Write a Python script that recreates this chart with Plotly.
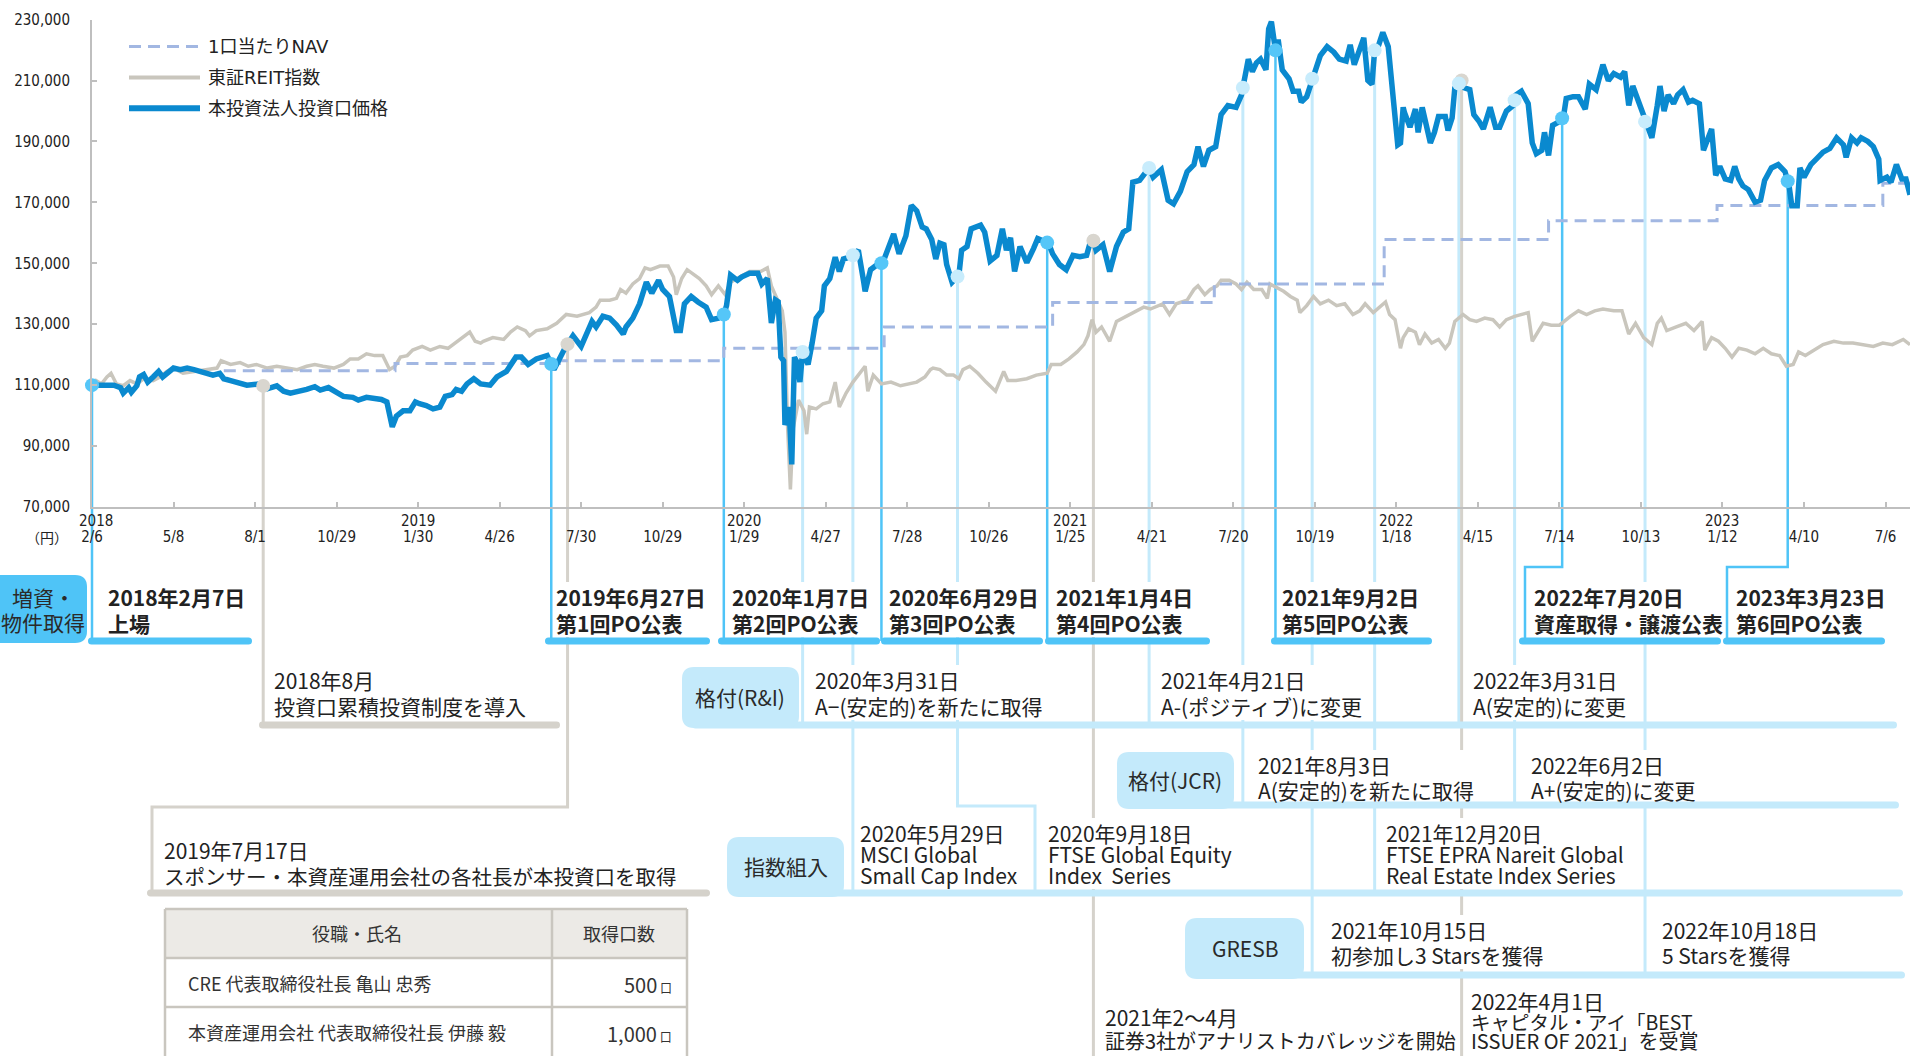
import numpy as np
import plotly.graph_objects as go

W, H = 1910, 1056

# ---------------------------------------------------------------------------
# Series: x = trading days counted from the listing (2018/2/7), y = yen
# ---------------------------------------------------------------------------
PRICE = [
    (0, 110000), (16, 110000), (21, 109200), (23, 107400), (27, 109200), (29, 107700),
    (33, 109800), (35, 112700), (38, 113500), (41, 111000), (45, 112700), (49, 114500),
    (52, 112700), (56, 113900), (60, 115600), (65, 115100), (70, 115600), (75, 115100),
    (79, 114500), (84, 113900), (89, 113300), (94, 113900), (97, 112100), (102, 111500),
    (106, 111000), (114, 110000), (124, 110400), (129, 108800), (136, 109800), (141, 108000),
    (146, 107400), (153, 108000), (158, 108600), (164, 109500), (168, 108400), (174, 109200),
    (180, 107400), (185, 106300), (192, 106000), (196, 105100), (202, 106000), (213, 105300),
    (217, 104500), (219, 99800), (221, 96300), (224, 99800), (229, 101600), (234, 101600),
    (238, 104500), (241, 103900), (246, 103300), (251, 102200), (256, 102800), (260, 106300),
    (265, 106900), (268, 108600), (272, 108000), (276, 110400), (281, 112100), (286, 110400),
    (293, 110000), (298, 112700), (305, 114500), (312, 119200), (316, 119200), (321, 116800),
    (327, 118600), (335, 119700), (340, 115100), (344, 118600), (348, 122100), (354, 126200),
    (360, 122700), (368, 130900), (371, 129100), (376, 132600), (381, 132000), (386, 129700),
    (391, 126800), (393, 129100), (398, 132000), (403, 136700), (408, 143800), (412, 140200),
    (417, 144400), (420, 141400), (425, 139100), (430, 127900), (433, 127900), (436, 136700),
    (441, 139100), (446, 137300), (452, 135600), (456, 131500), (461, 132000), (465, 133200),
    (467, 136100), (470, 146100), (475, 144400), (478, 145500), (484, 146700), (490, 146700),
    (493, 143200), (497, 145000), (500, 130400), (503, 138000), (505, 137400), (507, 119200),
    (509, 118000), (510, 96900), (513, 102800), (515, 84000), (517, 119200), (519, 117400),
    (521, 111000), (523, 120900), (527, 116800), (530, 123800), (533, 132000), (537, 134400),
    (539, 142600), (543, 145000), (547, 152000), (550, 147300), (553, 151400), (559, 152200),
    (564, 154300), (568, 143800), (569, 140800), (573, 147900), (578, 149600), (582, 150200),
    (586, 155500), (590, 159600), (594, 153100), (599, 159000), (603, 169000), (607, 167200),
    (611, 161900), (614, 161300), (618, 157800), (621, 151400), (624, 156600), (627, 156100),
    (629, 149600), (633, 143800), (638, 146100), (640, 154300), (644, 155500), (647, 161300),
    (654, 162500), (657, 160200), (661, 150800), (666, 152600), (670, 161300), (673, 154300),
    (676, 158400), (679, 147300), (683, 155500), (688, 150200), (693, 154900), (696, 158100),
    (704, 156600), (707, 153100), (712, 149600), (717, 147900), (722, 152600), (727, 152200),
    (732, 152600), (736, 159000), (739, 154300), (744, 156100), (749, 147300), (754, 155500),
    (759, 160200), (763, 161300), (766, 176600), (771, 177200), (778, 181300), (781, 178300),
    (787, 180700), (792, 170700), (796, 169500), (801, 173600), (806, 180100), (811, 182400),
    (814, 188300), (818, 181800), (822, 187100), (827, 188300), (831, 198800), (836, 201800),
    (842, 201200), (846, 205300), (851, 217000), (854, 212900), (857, 215800), (860, 217000),
    (864, 213500), (866, 227000), (868, 229300), (871, 219900), (873, 223400), (876, 213500),
    (881, 210600), (884, 206500), (888, 206500), (890, 202900), (894, 204700), (898, 210600),
    (904, 218200), (909, 221100), (914, 219300), (918, 217000), (923, 216400), (926, 221700),
    (929, 215200), (936, 224000), (939, 210000), (942, 208800), (944, 219900), (947, 221700),
    (950, 225800), (954, 221100), (958, 204700), (961, 188900), (963, 189500), (965, 201200),
    (966, 199400), (970, 194700), (974, 200600), (976, 193000), (979, 201200), (982, 195900),
    (985, 189500), (988, 193000), (991, 198200), (996, 198200), (998, 193600), (1001, 197700),
    (1003, 207600), (1008, 210000), (1010, 207600), (1014, 207000), (1017, 198800), (1021, 196500),
    (1024, 194100), (1029, 201200), (1033, 194700), (1036, 194700), (1041, 200000), (1046, 201800),
    (1048, 205300), (1052, 206500), (1057, 202400), (1060, 189500), (1063, 186000), (1067, 187100),
    (1069, 193000), (1072, 185400), (1075, 195300), (1080, 196500), (1083, 198200), (1085, 204100),
    (1090, 204700), (1094, 204700), (1099, 200600), (1102, 208800), (1107, 207000), (1112, 215200),
    (1116, 210000), (1120, 212300), (1125, 211100), (1128, 212900), (1131, 201800), (1134, 208200),
    (1138, 203500), (1143, 196500), (1148, 191200), (1152, 201800), (1154, 208200), (1157, 200000),
    (1160, 205300), (1164, 202400), (1167, 205300), (1171, 207000), (1175, 202900), (1178, 203500),
    (1183, 202400), (1186, 187100), (1188, 189500), (1192, 194100), (1195, 178900), (1198, 181800),
    (1202, 177700), (1206, 177200), (1209, 181800), (1212, 177700), (1215, 175400), (1219, 174200),
    (1224, 170100), (1228, 170700), (1231, 177200), (1236, 181300), (1241, 182400), (1246, 180100),
    (1249, 175400), (1251, 168900), (1255, 168900), (1257, 181300), (1260, 178300), (1265, 182400),
    (1269, 184200), (1274, 186500), (1279, 187700), (1284, 191200), (1289, 188900), (1291, 184800),
    (1295, 191200), (1299, 189500), (1302, 191200), (1307, 190000), (1311, 188300), (1315, 184200),
    (1316, 177200), (1321, 178300), (1324, 176600), (1328, 182400), (1332, 177700), (1335, 177700),
    (1338, 172500),
]

REIT = [
    (0, 109800), (3, 111500), (7, 110400), (11, 112700), (14, 113900), (18, 110400),
    (23, 109800), (28, 111500), (33, 110400), (38, 112100), (45, 111500), (50, 112700),
    (55, 114500), (60, 115600), (67, 113900), (75, 114500), (84, 115100), (92, 115600),
    (95, 118000), (102, 116800), (109, 117400), (115, 116200), (121, 116800), (129, 115600),
    (136, 116200), (143, 115600), (151, 115100), (158, 116200), (164, 116800), (170, 116200),
    (178, 115600), (185, 116800), (190, 118600), (196, 118600), (202, 120300), (208, 119700),
    (214, 119700), (219, 115100), (223, 116200), (227, 119200), (232, 119700), (236, 121500),
    (243, 122700), (249, 121500), (256, 122700), (262, 122100), (267, 123800), (273, 125600),
    (278, 127400), (282, 124400), (286, 123800), (288, 124400), (295, 125600), (303, 125000),
    (308, 127400), (313, 129100), (319, 127900), (322, 126200), (327, 127900), (335, 128500),
    (342, 130300), (349, 133200), (357, 132600), (366, 133800), (371, 135600), (374, 137900),
    (381, 137900), (386, 138500), (389, 141400), (393, 140200), (398, 143200), (403, 145000),
    (407, 148500), (411, 147900), (418, 149100), (424, 149100), (428, 145500), (430, 139700),
    (434, 145000), (438, 147900), (443, 146100), (447, 145000), (452, 142600), (456, 139700),
    (461, 142600), (466, 139700), (470, 143800), (477, 145500), (484, 147300), (492, 147300),
    (497, 148500), (500, 142600), (504, 138500), (508, 134400), (510, 127400), (512, 95700),
    (514, 75800), (516, 95700), (520, 105100), (524, 101600), (526, 93900), (528, 102800),
    (533, 102200), (538, 103900), (543, 104500), (547, 111000), (550, 102800), (555, 107400),
    (560, 111000), (565, 113900), (569, 116200), (571, 108000), (575, 113300), (581, 110400),
    (588, 111000), (595, 109800), (601, 110400), (607, 111000), (613, 112700), (617, 115100),
    (619, 115600), (624, 115100), (629, 113300), (634, 113300), (638, 112100), (641, 115100),
    (646, 116200), (652, 113900), (658, 111000), (665, 108000), (671, 114500), (674, 111500),
    (680, 111500), (688, 112100), (695, 113300), (703, 113900), (706, 116800), (713, 116800),
    (719, 118600), (725, 120900), (730, 123300), (733, 126200), (736, 131500), (739, 127400),
    (743, 129100), (749, 124400), (754, 130900), (759, 132000), (764, 133200), (769, 134400),
    (774, 135600), (779, 135000), (784, 136100), (788, 136700), (793, 133200), (798, 136700),
    (806, 137900), (811, 141400), (814, 142600), (819, 139700), (823, 141400), (828, 142600),
    (831, 144400), (837, 144400), (842, 143200), (846, 141400), (850, 143800), (855, 141400),
    (861, 141400), (865, 138500), (867, 143200), (872, 142000), (877, 140800), (882, 139100),
    (887, 137900), (889, 133800), (894, 136100), (899, 139100), (904, 136700), (910, 137900),
    (916, 136100), (922, 136700), (928, 133200), (933, 134400), (937, 136700), (943, 133800),
    (948, 135600), (952, 137300), (955, 133200), (959, 131500), (963, 122100), (965, 125600),
    (969, 128500), (974, 127400), (977, 123300), (981, 126800), (986, 123800), (991, 125000),
    (996, 122100), (999, 123800), (1003, 130900), (1009, 133200), (1014, 131500), (1019, 130900),
    (1025, 132000), (1031, 131500), (1036, 129100), (1041, 131500), (1047, 132600), (1052, 133200),
    (1057, 133800), (1060, 124400), (1063, 126800), (1068, 130300), (1074, 129700), (1080, 129700),
    (1088, 132600), (1094, 134400), (1100, 133200), (1106, 134400), (1112, 135000), (1120, 134400),
    (1126, 134400), (1131, 126800), (1136, 130300), (1142, 125600), (1148, 123300), (1152, 130300),
    (1155, 132000), (1159, 127900), (1166, 129100), (1173, 130300), (1179, 127900), (1185, 130900),
    (1187, 121500), (1192, 125600), (1197, 124400), (1202, 122100), (1207, 119200), (1212, 122100),
    (1218, 121500), (1224, 120300), (1230, 122100), (1236, 120300), (1242, 119700), (1247, 116200),
    (1252, 116800), (1256, 120900), (1261, 119700), (1267, 121500), (1274, 123300), (1282, 124400),
    (1289, 123800), (1296, 123800), (1304, 123300), (1311, 122700), (1318, 123800), (1325, 123300),
    (1333, 125000), (1338, 123300),
]

# NAV per unit: value from each step date onward
NAV = [
    (97, 114700), (223, 117100), (344, 118000), (465, 122100), (583, 129100), (707, 137100),
    (826, 143200), (951, 157800), (1072, 164000), (1196, 169000), (1318, 176300), (1338, 176300),
]

TICK_DAYS = list(range(0, 1321, 60))
TICK_DATES = ["2/6", "5/8", "8/1", "10/29", "1/30", "4/26", "7/30", "10/29", "1/29", "4/27",
              "7/28", "10/26", "1/25", "4/21", "7/20", "10/19", "1/18", "4/15", "7/14", "10/13",
              "1/12", "4/10", "7/6"]
YEAR_DAYS = [0, 240, 480, 720, 960, 1200]
YEAR_LABELS = ["2018", "2019", "2020", "2021", "2022", "2023"]
Y_TICKS = list(range(70000, 230001, 20000))

# Events on the price line: trading day and category
EVENT_DAYS = [0, 126, 338, 350, 465, 523, 560, 581, 637, 703, 737, 778, 847, 871, 898, 944,
              1006, 1008, 1047, 1082, 1143, 1248]
EVENT_KIND = ["po", "misc", "po", "misc", "po", "info", "info", "po", "info", "po", "misc",
              "info", "info", "po", "info", "info", "info", "misc", "info", "po", "info", "po"]
# connector routing below the chart (pixel rows / columns of the timeline panel)
EVENT_ROUTE = [
    [("v", 641)], [("v", 725)], [("v", 641)], [("v", 807), ("h", 152), ("v", 893)],
    [("v", 641)], [("v", 725)], [("v", 893)], [("v", 641)],
    [("v", 806), ("h", 1035), ("v", 893)], [("v", 641)], [("v", 1060)], [("v", 725)],
    [("v", 805)], [("v", 641)], [("v", 975)], [("v", 893)], [("v", 725)], [("v", 1060)],
    [("v", 805)], [("v", 567), ("h", 1525), ("v", 641)], [("v", 975)],
    [("v", 567), ("h", 1727), ("v", 641)],
]

# ---------------------------------------------------------------------------
# Styling
# ---------------------------------------------------------------------------
BLUE = "#0A89CF"
REIT_C = "#C9C6BD"
NAV_C = "#A2B7E2"
SKY = "#4FC4F7"
PALE = "#C4EAFB"
GREY = "#D5D2CB"
TXT = "#222222"
AXIS_C = "#BFBFBF"
JP = "Noto Sans CJK JP"
LAT = "DejaVu Sans"
AX_FONT = "DejaVu Sans Condensed, DejaVu Sans"

KIND_COLOR = {"po": SKY, "info": PALE, "misc": GREY}
MARK_COLOR = {"po": "#55C6F8", "info": "#C8ECFC", "misc": "#D9D6CF"}
KIND_WIDTH = {"po": 2.5, "info": 3, "misc": 3}

XR = [0, 1338]
YR = [70000, 230000]
X0 = 92 / W
Y_TOP, Y_BOT = 19.6, 507.0
YDOM = [1 - Y_BOT / H, 1 - Y_TOP / H]


def px(x):
    return x / W


def py(y):
    return 1 - y / H


def day_x(d):
    return X0 + (d - XR[0]) / (XR[1] - XR[0]) * (1 - X0)


def val_y(v):
    return YDOM[0] + (v - YR[0]) / (YR[1] - YR[0]) * (YDOM[1] - YDOM[0])


def path_of(pts):
    return "M" + " L".join(f"{x:.6f},{y:.6f}" for x, y in pts)


def rrect(x0, y0, x1, y1, r):
    p = lambda x, y: f"{px(x):.6f},{py(y):.6f}"
    return (f"M{p(x0 + r, y0)} L{p(x1 - r, y0)} Q{p(x1, y0)} {p(x1, y0 + r)} "
            f"L{p(x1, y1 - r)} Q{p(x1, y1)} {p(x1 - r, y1)} L{p(x0 + r, y1)} "
            f"Q{p(x0, y1)} {p(x0, y1 - r)} L{p(x0, y0 + r)} Q{p(x0, y0)} {p(x0 + r, y0)} Z")


def text_w(s, size):
    w = 0.0
    for ch in s:
        o = ord(ch)
        if o >= 0x2E80 or ch == "\u2212":
            w += 1.0
        elif ch in " \u00a0":
            w += 0.25
        elif ch in "()":
            w += 0.33
        elif ch in "il.,I|":
            w += 0.27
        elif ch in "mMW":
            w += 0.85
        else:
            w += 0.56
    return w * size


def note(x, y, text, size, anchor="left", family=JP, weight=400, color=TXT, xref="paper", xshift=0):
    return dict(x=x if xref != "paper" else px(x), y=py(y), xref=xref, yref="paper", text=text,
                showarrow=False, xanchor=anchor, yanchor="middle", align=anchor,
                borderpad=0, xshift=xshift,
                font=dict(family=family, size=size, color=color, weight=weight))


px_x, px_y = zip(*PRICE)
rt_x, rt_y = zip(*REIT)
nv_x, nv_y = zip(*NAV)
ev_vals = np.interp(EVENT_DAYS, px_x, px_y)

fig = go.Figure()
fig.add_trace(go.Scatter(x=rt_x, y=rt_y, mode="lines", name="東証REIT指数",
                         line=dict(color=REIT_C, width=3.5)))
fig.add_trace(go.Scatter(x=nv_x, y=nv_y, mode="lines", name="1口当たりNAV", line_shape="hv",
                         line=dict(color=NAV_C, width=3, dash="12px,7px")))
fig.add_trace(go.Scatter(x=px_x, y=px_y, mode="lines", name="本投資法人投資口価格",
                         line=dict(color=BLUE, width=5.5)))
for kind in ["misc", "info", "po"]:
    idx = [i for i, k in enumerate(EVENT_KIND) if k == kind]
    fig.add_trace(go.Scatter(x=[EVENT_DAYS[i] for i in idx], y=[ev_vals[i] for i in idx],
                             mode="markers", cliponaxis=False, showlegend=False,
                             marker=dict(size=14, color=MARK_COLOR[kind], line=dict(width=0))))

shapes = []
anns = []

# connectors from each event marker down into the timeline panel
for d, v, kind, route in zip(EVENT_DAYS, ev_vals, EVENT_KIND, EVENT_ROUTE):
    cx, cy = day_x(d), val_y(v)
    pts = [(cx, cy)]
    for step, pos in route:
        if step == "v":
            cy = py(pos)
        else:
            cx = px(pos)
        pts.append((cx, cy))
    shapes.append(dict(type="path", path=path_of(pts), xref="paper", yref="paper",
                       line=dict(color=KIND_COLOR[kind], width=KIND_WIDTH[kind]),
                       fillcolor="rgba(0,0,0,0)", layer="below"))

# text blocks of the timeline: (left x, [(y, text, size)], weight)
BLOCKS = []
ROW1 = [(107, "2018年2月7日", "上場"), (555, "2019年6月27日", "第1回PO公表"),
        (731, "2020年1月7日", "第2回PO公表"), (888, "2020年6月29日", "第3回PO公表"),
        (1055, "2021年1月4日", "第4回PO公表"), (1281, "2021年9月2日", "第5回PO公表"),
        (1533, "2022年7月20日", "資産取得・譲渡公表"), (1735, "2023年3月23日", "第6回PO公表")]
for x, a, b in ROW1:
    BLOCKS.append((x, [(597, a, 21), (623, b, 21)], 700))
for x, a, b in [(273, "2018年8月", "投資口累積投資制度を導入"),
                (814, "2020年3月31日", "A\u2212(安定的)を新たに取得"),
                (1160, "2021年4月21日", "A-(ポジティブ)に変更"),
                (1472, "2022年3月31日", "A(安定的)に変更")]:
    BLOCKS.append((x, [(680, a, 21), (706, b, 21)], 400))
for x, a, b in [(1257, "2021年8月3日", "A(安定的)を新たに取得"),
                (1530, "2022年6月2日", "A+(安定的)に変更")]:
    BLOCKS.append((x, [(765, a, 21), (790, b, 21)], 400))
BLOCKS.append((163, [(850, "2019年7月17日", 21),
                     (876, "スポンサー・本資産運用会社の各社長が本投資口を取得", 20.5)], 400))
for x, a, b, c in [(859, "2020年5月29日", "MSCI Global", "Small Cap Index"),
                   (1047, "2020年9月18日", "FTSE Global Equity", "Index\u00a0 Series"),
                   (1385, "2021年12月20日", "FTSE EPRA Nareit Global", "Real Estate Index Series")]:
    BLOCKS.append((x, [(833, a, 21), (854, b, 21), (875, c, 21)], 400))
for x, a, b in [(1330, "2021年10月15日", "初参加し3 Starsを獲得"),
                (1661, "2022年10月18日", "5 Starsを獲得")]:
    BLOCKS.append((x, [(930, a, 21), (955, b, 21)], 400))
BLOCKS.append((1104, [(1017, "2021年2〜4月", 21),
                      (1040, "証券3社がアナリストカバレッジを開始", 20)], 400))
BLOCKS.append((1470, [(1001, "2022年4月1日", 21), (1021, "キャピタル・アイ「BEST", 19.5),
                      (1040, "ISSUER OF 2021」を受賞", 20)], 400))

for x, lines, weight in BLOCKS:
    wmax = max(text_w(t, s) for _, t, s in lines)
    ys = [y for y, _, _ in lines]
    shapes.append(dict(type="rect", xref="paper", yref="paper", x0=px(x - 1), x1=px(x + wmax + 3),
                       y0=py(min(ys) - 15), y1=py(max(ys) + 14),
                       fillcolor="white", line=dict(width=0), layer="below"))
    for y, t, s in lines:
        anns.append(note(x, y, t, s, weight=weight))


def bar(x0, x1, yc, color, t=7):
    shapes.append(dict(type="path", path=rrect(x0, yc - t / 2, x1, yc + t / 2, t / 2),
                       xref="paper", yref="paper", fillcolor=color, line=dict(width=0), layer="below"))


def pill(x0, y0, x1, y1, color, r=12):
    shapes.append(dict(type="path", path=rrect(x0, y0, x1, y1, r), xref="paper", yref="paper",
                       fillcolor=color, line=dict(width=0), layer="below"))


# offering / acquisition underlines
for x0, x1 in [(88, 252), (545, 710), (718, 880), (881, 1043), (1045, 1210),
               (1271, 1432), (1519, 1721), (1723, 1885)]:
    bar(x0, x1, 641, SKY)
pill(-14, 575, 87, 643, SKY)

# category rows with their headers
for (x0, y0, x1, y1), bar_y, bar_end in [((682, 667, 799, 728), 725, 1897),
                                         ((1117, 752, 1234, 809), 805, 1899),
                                         ((727, 837, 844, 897), 893, 1903),
                                         ((1185, 918, 1304, 979), 975, 1905)]:
    bar(x0 + 10, bar_end, bar_y, PALE)
    pill(x0, y0, x1, y1, PALE)

# other milestones
bar(259, 560, 725, GREY)
bar(147, 710, 893, GREY)

PILL_TEXT = [(43, 597, "増資・"), (43, 622, "物件取得"), (740, 697, "格付(R&I)"),
             (1175, 780, "格付(JCR)"), (786, 866, "指数組入"), (1245, 948, "GRESB")]
for x, y, t in PILL_TEXT:
    anns.append(note(x, y, t, 21, anchor="center", weight=400, color="#2a2a2a"))

# unit purchase table
TBL_C = "#C9C6BF"
shapes.append(dict(type="rect", xref="paper", yref="paper", x0=px(165), x1=px(687),
                   y0=py(909), y1=py(958), fillcolor="#ECEAE6", line=dict(width=0), layer="below"))
for xa, ya, xb, yb in [(165, 909, 687, 909), (165, 958, 687, 958), (165, 1007, 687, 1007),
                       (165, 909, 165, 1060), (687, 909, 687, 1060), (552, 909, 552, 1060)]:
    shapes.append(dict(type="line", xref="paper", yref="paper", x0=px(xa), y0=py(ya),
                       x1=px(xb), y1=py(yb), line=dict(color=TBL_C, width=2.5), layer="below"))
TABLE_HEAD = ["役職・氏名", "取得口数"]
TABLE_NAMES = ["CRE 代表取締役社長 亀山 忠秀", "本資産運用会社 代表取締役社長 伊藤 毅"]
TABLE_UNITS = [500, 1000]
for cx, t in zip([357, 619], TABLE_HEAD):
    anns.append(note(cx, 933, t, 18, anchor="center", color="#333"))
for ry, name, units in zip([983, 1032], TABLE_NAMES, TABLE_UNITS):
    anns.append(note(187, ry, name, 18, color="#333"))
    anns.append(note(673, ry + 1, f"{units:,}<span style='font-size:12px'> 口</span>", 20,
                     anchor="right", color="#333"))

# legend
LEGEND = [("1口当たりNAV", NAV_C, 3, "12px,7px", 46.4),
          ("東証REIT指数", REIT_C, 4, "solid", 77.5),
          ("本投資法人投資口価格", BLUE, 6, "solid", 108.2)]
for name, color, lw, dash, y in LEGEND:
    shapes.append(dict(type="line", xref="paper", yref="paper", x0=px(129), x1=px(200),
                       y0=py(y), y1=py(y), line=dict(color=color, width=lw, dash=dash)))
    anns.append(note(207, y, name, 18, family=f"{LAT}, {JP}"))

# year row of the date axis and the unit label
for d, t in zip(YEAR_DAYS, YEAR_LABELS):
    anns.append(note(d, 520.5, t, 15, anchor="center", family=AX_FONT, xref="x",
                     xshift=4 if d == 0 else 0))
anns.append(note(47, 537, "（円）", 14, anchor="center"))

fig.update_layout(
    width=W, height=H,
    margin=dict(l=0, r=0, t=0, b=0, pad=0, autoexpand=False),
    paper_bgcolor="white", plot_bgcolor="rgba(0,0,0,0)",
    showlegend=False,
    font=dict(family=JP, color=TXT),
    xaxis=dict(domain=[X0, 1], range=XR, tickmode="array", tickvals=TICK_DAYS, ticktext=TICK_DATES,
               ticks="inside", ticklen=5, tickwidth=1.5, tickcolor=AXIS_C, showline=True,
               linecolor=AXIS_C, linewidth=2, showgrid=False, zeroline=False, automargin=False,
               tickfont=dict(family=AX_FONT, size=15, color=TXT), ticklabelstandoff=15,
               fixedrange=True),
    yaxis=dict(domain=YDOM, range=YR, tickmode="array", tickvals=Y_TICKS, tickformat=",",
               ticks="inside", ticklen=5, tickwidth=1.5, tickcolor=AXIS_C, showline=True,
               linecolor=AXIS_C, linewidth=2, showgrid=False, zeroline=False, automargin=False,
               tickfont=dict(family=AX_FONT, size=15, color=TXT), ticklabelstandoff=17,
               fixedrange=True),
    shapes=shapes,
    annotations=anns,
)

# the page body keeps no default margin so the figure sits at the window's corner
fig.write_html("out.html", config={"displayModeBar": False},
               post_script="document.body.style.margin='0';document.body.style.overflow='hidden';")
